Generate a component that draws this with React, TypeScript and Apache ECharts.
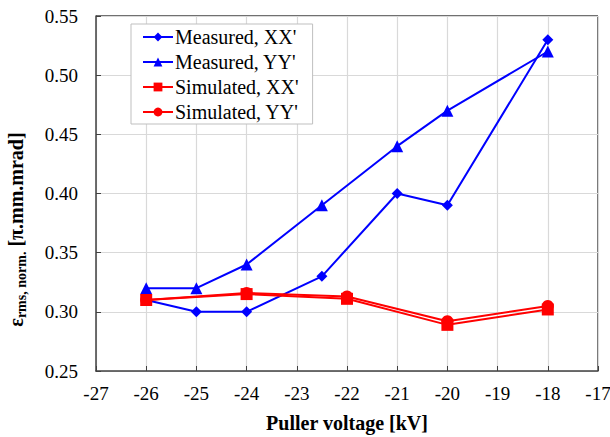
import React, { useEffect, useRef } from "react";
import * as echarts from "echarts";

const measuredXXx = [-26, -25, -24, -22.5, -21, -20, -18];
const measuredXX = [0.31, 0.30, 0.30, 0.33, 0.40, 0.39, 0.53];
const measuredYYx = [-26, -25, -24, -22.5, -21, -20, -18];
const measuredYY = [0.32, 0.32, 0.34, 0.39, 0.44, 0.47, 0.52];
const simXXx = [-26, -24, -22, -20, -18];
const simXX = [0.31, 0.315, 0.311, 0.289, 0.302];
const simYYx = [-26, -24, -22, -20, -18];
const simYY = [0.31, 0.316, 0.313, 0.292, 0.305];

const zip = (xs: number[], ys: number[]) => xs.map((x, i) => [x, ys[i]]);

export default function App() {
  const ref = useRef<HTMLDivElement>(null);
  useEffect(() => {
    if (!ref.current) return;
    const chart = echarts.init(ref.current, null, { renderer: "svg" });
    const font = "Liberation Serif";
    chart.setOption({
      animation: false,
      backgroundColor: "#ffffff",
      textStyle: { fontFamily: font },
      grid: { left: 96, right: 12, top: 16, bottom: 66, containLabel: false, outerBoundsMode: "none" },
      legend: {
        orient: "vertical",
        left: 131,
        top: 24,
        padding: [3, 14, 2, 11],
        backgroundColor: "#ffffff",
        borderColor: "#bfbfbf",
        borderWidth: 1,
        itemWidth: 30,
        itemHeight: 11,
        itemGap: 5,
        textStyle: { fontFamily: font, fontSize: 20, color: "#000", padding: [0, 0, 0, -3] },
        data: ["Measured, XX'", "Measured, YY'", "Simulated, XX'", "Simulated, YY'"],
      },
      xAxis: {
        type: "value",
        min: -27,
        max: -17,
        interval: 1,
        name: "Puller voltage [kV]",
        nameLocation: "middle",
        nameGap: 42,
        nameTextStyle: { fontFamily: font, fontSize: 20, fontWeight: "bold", color: "#000" },
        axisLine: { onZero: false, lineStyle: { color: "#404040", width: 1.5 } },
        axisTick: { inside: true, length: 5, lineStyle: { color: "#404040" } },
        axisLabel: { fontFamily: font, fontSize: 19, color: "#000", margin: 13 },
        splitLine: { show: true, lineStyle: { color: "#d9d9d9", width: 1.2 } },
      },
      yAxis: {
        type: "value",
        min: 0.25,
        max: 0.55,
        interval: 0.05,
        name: "{e|ε}{sub|rms, norm.}{e| [π.mm.mrad]}",
        nameLocation: "middle",
        nameGap: 68,
        nameRotate: 90,
        nameTextStyle: {
          fontFamily: font,
          color: "#000",
          padding: [0, 72, 0, 0],
          rich: {
            e: { fontFamily: font, fontSize: 20, fontWeight: "bold", color: "#000" },
            sub: { fontFamily: font, fontSize: 14, fontWeight: "bold", color: "#000", verticalAlign: "bottom", padding: [10, 0, 0, 0] },
          },
        },
        axisLine: { show: true, lineStyle: { color: "#404040", width: 1.5 } },
        axisTick: { inside: true, length: 5, lineStyle: { color: "#404040" } },
        axisLabel: { fontFamily: font, fontSize: 19, color: "#000", margin: 18, formatter: (v: number) => v.toFixed(2) },
        splitLine: { show: true, lineStyle: { color: "#d9d9d9", width: 1.2 } },
      },
      series: [
        {
          name: "Measured, XX'",
          type: "line",
          data: zip(measuredXXx, measuredXX),
          symbol: "diamond",
          symbolSize: 11,
          lineStyle: { color: "#0000ff", width: 2 },
          itemStyle: { color: "#0000ff" },
          z: 2,
        },
        {
          name: "Measured, YY'",
          type: "line",
          data: zip(measuredYYx, measuredYY),
          symbol: "triangle",
          symbolSize: 12,
          lineStyle: { color: "#0000ff", width: 2 },
          itemStyle: { color: "#0000ff" },
          z: 2,
        },
        {
          name: "Simulated, XX'",
          type: "line",
          data: zip(simXXx, simXX),
          symbol: "rect",
          symbolSize: 12,
          lineStyle: { color: "#ff0000", width: 2 },
          itemStyle: { color: "#ff0000" },
          z: 3,
        },
        {
          name: "Simulated, YY'",
          type: "line",
          data: zip(simYYx, simYY),
          symbol: "circle",
          symbolSize: 12,
          lineStyle: { color: "#ff0000", width: 2 },
          itemStyle: { color: "#ff0000" },
          z: 3,
        },
      ],
      graphic: [
        {
          type: "line",
          shape: { x1: 96, y1: 16, x2: 598, y2: 16 },
          style: { stroke: "#404040", lineWidth: 1.5 },
        },
        {
          type: "line",
          shape: { x1: 598, y1: 16, x2: 598, y2: 371 },
          style: { stroke: "#404040", lineWidth: 1.5 },
        },
      ],
    });
    return () => chart.dispose();
  }, []);
  return <div ref={ref} style={{ width: 610, height: 437, position: "absolute", left: 0, top: 0 }} />;
}
